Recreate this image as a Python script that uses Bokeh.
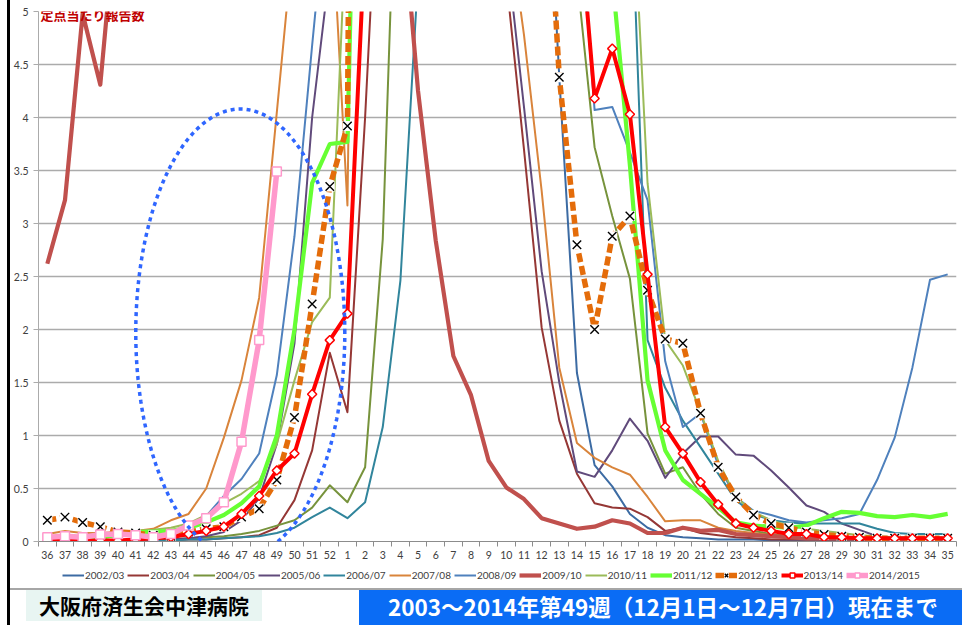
import math
from bokeh.plotting import figure
from bokeh.models import (Range1d, FixedTicker, CustomJSTickFormatter, Legend, LegendItem,
                          PolyAnnotation, Label, ColumnDataSource, Div)
from bokeh.layouts import column
from bokeh.embed import file_html
from bokeh.resources import INLINE

NaN = float("nan")

weeks = list(range(36, 53)) + list(range(1, 36))
y_ticks = [0, 0.5, 1, 1.5, 2, 2.5, 3, 3.5, 4, 4.5, 5]

s2002_03 = [NaN] * 17 + [12, 20, 28, 33, 35, 31, 26, 21, 17, 13, 10, 7.5, 4.38, 1.59, 0.72, 0.52, 0.26, 0.13,
                         0.06, 0.04, 0.03, 0.02, 0.02, 0.02, 0.01, 0.01, 0.01, 0.01, 0.01, 0.01, 0.01, 0.01,
                         0.01, 0.01, 0.01]
s2003_04 = [0.00, 0.01, 0.01, 0.00, 0.01, 0.01, 0.01, 0.01, 0.02, 0.02, 0.03, 0.04, 0.06, 0.13, 0.39, 0.86, 1.78,
            1.22, 4.0, 7.3, 12, 16, 18, 17, 15, 8.5, 5.3, 3.7, 2.02, 1.14, 0.64, 0.36, 0.32, 0.31, 0.23, 0.10,
            0.13, 0.08, 0.06, 0.04, 0.03, 0.02, 0.02, 0.02, 0.02, 0.02, 0.02, 0.01, 0.01, 0.01, 0.01, 0.01]
s2004_05 = [0.01, 0.01, 0.01, 0.01, 0.01, 0.02, 0.02, 0.02, 0.03, 0.04, 0.05, 0.07, 0.10, 0.15, 0.20, 0.32, 0.53,
            0.37, 0.70, 2.85, 7.8, 12, 15, 17, 18, 17, 15, 12, 9, 7, 5.34, 3.72, 3.07, 2.48, 1.02, 0.64, 0.70,
            0.45, 0.26, 0.13, 0.10, 0.07, 0.05, 0.04, 0.03, 0.03, 0.03, 0.02, 0.02, 0.02, 0.02, 0.02]
s2005_06 = [0.01, 0.01, 0.01, 0.01, 0.01, 0.01, 0.02, 0.02, 0.03, 0.05, 0.09, 0.20, 0.41, 0.92, 1.87, 4.00, 5.40,
            9, 14, 18, 20, 19, 16, 13, 10, 7.5, 5.6, 4.1, 2.55, 1.50, 0.66, 0.61, 0.86, 1.16, 0.95, 0.60, 0.83,
            0.99, 0.99, 0.82, 0.81, 0.67, 0.51, 0.34, 0.28, 0.17, 0.11, 0.05, 0.03, 0.03, 0.03, 0.03]
s2006_07 = [0.01, 0.01, 0.01, 0.01, 0.01, 0.01, 0.01, 0.01, 0.02, 0.02, 0.03, 0.04, 0.05, 0.08, 0.13, 0.23, 0.32,
            0.22, 0.37, 1.08, 2.46, 5.33, 9, 13, 16, 18, 19, 18, 16, 13, 10, 8, 7, 6.5, 1.9, 1.45, 1.14, 0.89,
            0.64, 0.39, 0.26, 0.20, 0.18, 0.17, 0.17, 0.17, 0.17, 0.12, 0.08, 0.07, 0.07, 0.07]
s2007_08 = [0.07, 0.10, 0.08, 0.08, 0.09, 0.10, 0.12, 0.20, 0.26, 0.50, 0.98, 1.52, 2.30, 4.05, 5.8, 7.0, 6.27,
            3.17, 15, 20, 22, 20, 17, 14, 11, 8.5, 6.0, 4.78, 3.31, 1.64, 0.93, 0.79, 0.70, 0.63, 0.42, 0.19,
            0.20, 0.20, 0.13, 0.10, 0.08, 0.06, 0.05, 0.04, 0.04, 0.03, 0.03, 0.03, 0.03, 0.03, 0.03, 0.03]
s2008_09 = [0.03, 0.03, 0.03, 0.04, 0.05, 0.06, 0.07, 0.09, 0.13, 0.24, 0.43, 0.59, 0.83, 1.57, 2.88, 4.68, 6.4,
            10, 14, 18, 22, 24, 22, 19, 16, 13, 10, 9, 8, 7, 6.2, 4.07, 4.10, 3.67, 3.22, 1.70, 1.08, 1.21,
            0.72, 0.42, 0.29, 0.25, 0.20, 0.18, 0.20, 0.22, 0.26, 0.58, 0.98, 1.64, 2.47, 2.52]
s2009_10 = [2.62, 3.22, 4.98, 4.31, 6.12, 9, 15, 25, 35, 42, 45, 40, 32, 24, 18, 14, 10,
            9, 8, 7, 6.2, 4.25, 2.84, 1.75, 1.38, 0.76, 0.51, 0.40, 0.22, 0.17, 0.12, 0.14, 0.20, 0.17, 0.08,
            0.08, 0.13, 0.10, 0.11, 0.07, 0.06, 0.05, 0.04, 0.03, 0.03, 0.03, 0.03, 0.02, 0.02, 0.02, 0.02, 0.02]
s2010_11 = [0.05, 0.06, 0.05, 0.06, 0.08, 0.10, 0.11, 0.13, 0.17, 0.25, 0.36, 0.45, 0.57, 0.92, 1.52, 2.07, 2.30,
            6.1, 12, 16, 19, 21, 22, 21, 19, 17, 15, 13, 11, 10, 9, 8.5, 8, 6.7, 3.38, 1.90, 1.66, 1.22, 0.76,
            0.42, 0.28, 0.20, 0.15, 0.12, 0.10, 0.08, 0.06, 0.05, 0.04, 0.04, 0.04, 0.04]
s2011_12 = [0.02, 0.02, 0.02, 0.03, 0.07, 0.09, 0.09, 0.10, 0.13, 0.18, 0.25, 0.36, 0.52, 1.0, 2.0, 3.38, 3.75,
            3.77, 11, 18, 24, 28, 30, 29, 26, 22, 18, 15, 12, 10, 8.5, 7, 5.33, 3.55, 1.52, 0.86, 0.58, 0.45,
            0.32, 0.18, 0.15, 0.14, 0.13, 0.15, 0.22, 0.28, 0.27, 0.24, 0.23, 0.25, 0.23, 0.26]
s2012_13 = [0.20, 0.23, 0.18, 0.14, 0.09, 0.08, 0.06, 0.05, 0.09, 0.12, 0.14, 0.23, 0.31, 0.58, 1.17, 2.24, 3.35,
            3.92, 25, 35, 40, 38, 30, 22, 16, 12, 10, 8.5, 7.26, 4.38, 2.80, 2.00, 2.88, 3.07, 2.37, 1.91, 1.87,
            1.21, 0.70, 0.42, 0.25, 0.17, 0.13, 0.09, 0.065, 0.05, 0.04, 0.03, 0.03, 0.03, 0.03, 0.03]
s2013_14 = [0.00, 0.02, 0.01, 0.01, 0.01, 0.02, 0.03, 0.04, 0.07, 0.10, 0.14, 0.26, 0.43, 0.67, 0.83, 1.39, 1.90,
            2.15, 5.7, 12, 20, 26, 28, 26, 22, 16, 12, 9, 7.5, 6.8, 6.15, 4.18, 4.65, 4.03, 2.52, 1.08, 0.83,
            0.56, 0.35, 0.17, 0.13, 0.10, 0.07, 0.07, 0.04, 0.04, 0.03, 0.03, 0.03, 0.03, 0.03, 0.03]
s2014_15 = [0.04, 0.05, 0.04, 0.065, 0.07, 0.06, 0.04, 0.07, 0.15, 0.22, 0.37, 0.94, 1.90, 3.49] + [NaN] * 38

idx = list(range(len(weeks)))

FONT = "Lato"
p = figure(width=963, height=566, x_range=Range1d(-0.5, 51.5), y_range=Range1d(0, 5),
           output_backend="svg", toolbar_location=None,
           min_border_left=38, min_border_right=7, min_border_top=11, min_border_bottom=25,
           background_fill_color="white", border_fill_color="white", outline_line_color=None)

p.xgrid.visible = False
p.ygrid.grid_line_color = "#ABABAB"
p.ygrid.grid_line_width = 1.4
p.yaxis.ticker = FixedTicker(ticks=y_ticks)
p.yaxis.formatter = CustomJSTickFormatter(code="return String(tick)")
p.yaxis.axis_line_color = "#ABABAB"
p.yaxis.major_tick_line_color = "#ABABAB"
p.yaxis.major_tick_out = 5
p.yaxis.major_tick_in = 0
p.yaxis.minor_tick_line_color = None
p.yaxis.major_label_standoff = 5
p.yaxis.major_label_text_font = FONT
p.yaxis.major_label_text_font_size = "10.5px"
p.yaxis.major_label_text_color = "#404040"

p.xaxis.ticker = FixedTicker(ticks=idx, minor_ticks=[i - 0.5 for i in range(len(idx) + 1)])
p.xaxis.major_label_overrides = {i: str(w) for i, w in zip(idx, weeks)}
p.xaxis.axis_line_color = "#8C8C8C"
p.xaxis.major_tick_line_color = None
p.xaxis.major_tick_out = 0
p.xaxis.major_tick_in = 0
p.xaxis.minor_tick_line_color = "#8C8C8C"
p.xaxis.minor_tick_out = 5
p.xaxis.minor_tick_in = 0
p.xaxis.major_label_standoff = 4
p.xaxis.major_label_text_font = FONT
p.xaxis.major_label_text_font_size = "10.5px"
p.xaxis.major_label_text_color = "#404040"

# small strip below the chart that carries the legend
lg = figure(width=963, height=24, x_range=Range1d(0, 1), y_range=Range1d(0, 1),
            output_backend="svg", toolbar_location=None,
            min_border_left=38, min_border_right=7, min_border_top=0, min_border_bottom=0,
            x_axis_type=None, y_axis_type=None, outline_line_color=None,
            background_fill_color="white", border_fill_color="white")

series = [
    ("2002/03", s2002_03, "#3C6BA3", 2, None),
    ("2003/04", s2003_04, "#953735", 2, None),
    ("2004/05", s2004_05, "#77933C", 2, None),
    ("2005/06", s2005_06, "#604A7B", 2, None),
    ("2006/07", s2006_07, "#31859C", 2, None),
    ("2007/08", s2007_08, "#D9843B", 2, None),
    ("2008/09", s2008_09, "#4F81BD", 2, None),
    ("2009/10", s2009_10, "#C0504D", 4.2, None),
    ("2010/11", s2010_11, "#9BBB59", 2, None),
    ("2011/12", s2011_12, "#66FF33", 4.2, None),
    ("2012/13", s2012_13, "#E46C0A", 5.5, "x"),
    ("2013/14", s2013_14, "#FF0000", 4, "diamond"),
    ("2014/2015", s2014_15, "#FF99CC", 5.5, "square"),
]


def draw(fig, src, color, lw, marker):
    rends = []
    dash = "9 4" if marker == "x" else "solid"
    rends.append(fig.line("x", "y", source=src, line_color=color, line_width=lw, line_join="round",
                          line_dash=dash))
    if marker == "x":
        rends.append(fig.scatter("x", "y", source=src, marker="square", size=10,
                                 fill_color="white", line_color=None))
        rends.append(fig.scatter("x", "y", source=src, marker="x", size=12,
                                 line_color="black", line_width=1.4))
    elif marker == "diamond":
        rends.append(fig.scatter("x", "y", source=src, marker="square", angle=math.pi / 4, size=6.5,
                                 fill_color="white", line_color=color, line_width=1.5))
    elif marker == "square":
        rends.append(fig.scatter("x", "y", source=src, marker="square", size=9,
                                 fill_color="white", line_color=color, line_width=1.5))
    return rends


items = []
for name, vals, color, lw, marker in series:
    draw(p, ColumnDataSource(dict(x=idx, y=vals)), color, lw, marker)
    # off-screen proxy glyphs so the legend strip can show each series' style
    proxy = draw(lg, ColumnDataSource(dict(x=[-100, -99], y=[-100, -100])), color, lw, marker)
    items.append(LegendItem(label=name, renderers=proxy, index=0))

# dotted ellipse highlighting the current season
cx, cy, ax, by = 10.93, 1.97, 5.92, 2.11
t = [2 * math.pi * k / 240 for k in range(241)]
p.add_layout(PolyAnnotation(xs=[cx + ax * math.cos(a) for a in t], ys=[cy + by * math.sin(a) for a in t],
                            fill_color=None, fill_alpha=0, line_color="#2F66FF", line_alpha=1,
                            line_width=3.5, line_dash="4 4"))

p.add_layout(Label(x=-0.5, y=5, x_offset=2, y_offset=-3, text="定点当たり報告数",
                   text_baseline="middle", text_font="Noto Sans CJK JP", text_font_style="bold",
                   text_font_size="13px", text_color="#C00000"))

legend = Legend(items=items, orientation="horizontal", location=(24, 9),
                label_text_font=FONT, label_text_font_size="10px", label_text_color="#404040",
                glyph_width=22, glyph_height=12, label_height=12, label_standoff=1, spacing=3,
                padding=0, margin=0, background_fill_alpha=0, border_line_color=None)
lg.add_layout(legend)

footer_html = (
    '<div style="position:relative;top:-7px;left:-6px;width:963px;height:35px;overflow:visible;">'
    '<div style="position:absolute;left:0px;top:-590px;width:963px;height:2px;background:#DADADA;"></div>'
    '<div style="position:absolute;left:8px;top:-600px;width:3px;height:640px;background:#000;z-index:5;"></div>'
    '<div style="position:absolute;left:11px;top:0px;width:952px;height:1.5px;background:#A6A6A6;"></div>'
    '<div style="position:absolute;left:27px;top:2px;width:236px;height:31px;background:#E8F5F2;'
    'font-family:\'Noto Sans CJK JP\';font-weight:bold;font-size:21px;color:#000;'
    'line-height:31px;text-align:center;white-space:nowrap;">大阪府済生会中津病院</div>'
    '<div style="position:absolute;left:360px;top:2px;width:603px;height:40px;background:#0A6CF5;'
    'font-family:\'Noto Sans CJK JP\';font-weight:bold;font-size:22.5px;color:#fff;'
    'line-height:33px;white-space:nowrap;padding-left:29px;box-sizing:border-box;">'
    '2003～2014年第49週（12月1日～12月7日）現在まで</div>'
    '</div>'
)
footer = Div(text=footer_html, width=963, height=35, styles={"overflow": "visible"})

layout = column(p, lg, footer, spacing=0)
open("out.html", "w").write(file_html(layout, INLINE))
